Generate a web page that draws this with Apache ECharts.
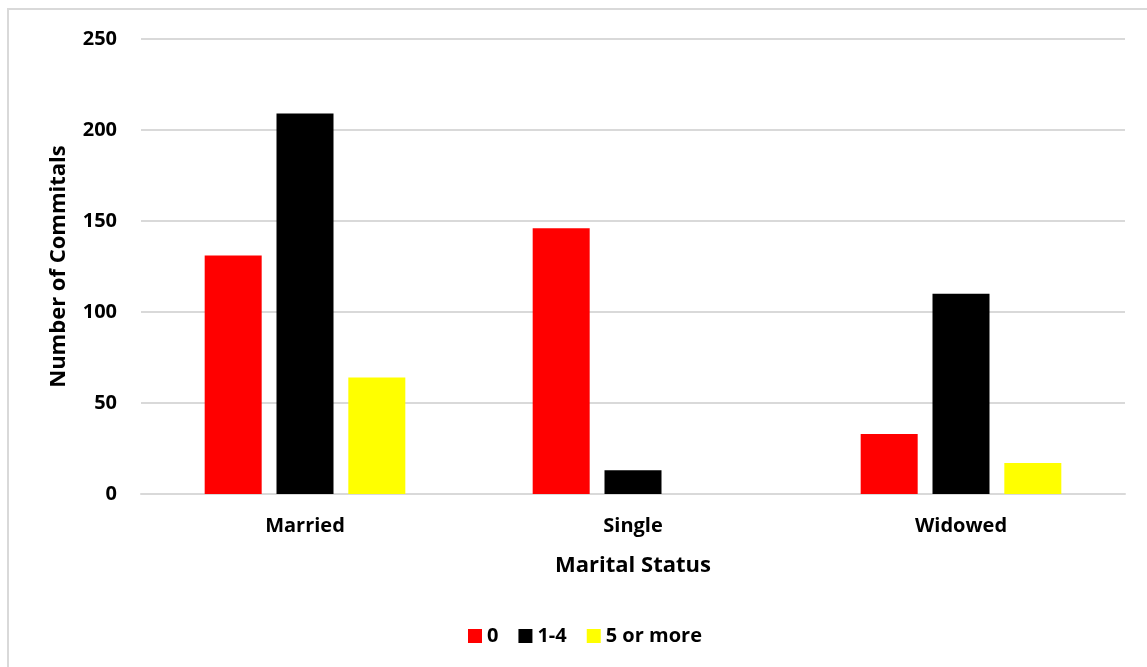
<!DOCTYPE html>
<html>
<head>
<meta charset="utf-8">
<script src="https://cdn.jsdelivr.net/npm/echarts@6/dist/echarts.min.js"></script>
<style>
  html, body { margin: 0; padding: 0; background: #fff; }
  #chart { width: 1147px; height: 667px; }
</style>
</head>
<body>
<div id="chart"></div>
<script>
// Commitals by marital status, split by number of children
const categories = ['Married', 'Single', 'Widowed'];
const seriesNames = ['0', '1-4', '5 or more'];
const valuesZero = [131, 146, 33];
const valuesOneToFour = [209, 13, 110];
const valuesFiveOrMore = [64, 0, 17];
const yTicks = [0, 50, 100, 150, 200, 250];

const colors = ['#ff0000', '#000000', '#ffff00'];
const font = '"Open Sans", "Liberation Sans", sans-serif';

const chart = echarts.init(document.getElementById('chart'), null, { renderer: 'canvas' });

const seriesData = [valuesZero, valuesOneToFour, valuesFiveOrMore];

chart.setOption({
  animation: false,
  backgroundColor: '#ffffff',
  graphic: [{
    type: 'rect',
    shape: { x: 8, y: 9, width: 1200, height: 700 },
    style: { fill: 'none', stroke: '#d9d9d9', lineWidth: 2 },
    silent: true,
    z: -1
  }],
  grid: { left: 141, right: 22, top: 39, bottom: 173, containLabel: false },
  legend: {
    left: 463,
    top: 621,
    itemWidth: 14,
    itemHeight: 14,
    itemGap: 20,
    icon: 'rect',
    data: seriesNames,
    textStyle: { fontFamily: font, fontWeight: 'bold', fontSize: 20, color: '#000' }
  },
  xAxis: {
    type: 'category',
    data: categories,
    name: 'Marital Status',
    nameLocation: 'middle',
    nameGap: 61,
    nameTextStyle: { fontFamily: font, fontWeight: 'bold', fontSize: 22, color: '#000' },
    axisLine: { show: true, lineStyle: { color: '#d9d9d9', width: 2 } },
    axisTick: { show: false },
    axisLabel: { margin: 22, fontFamily: font, fontWeight: 'bold', fontSize: 20, color: '#000' }
  },
  yAxis: {
    type: 'value',
    min: yTicks[0],
    max: yTicks[yTicks.length - 1],
    interval: 50,
    name: 'Number of Commitals',
    nameLocation: 'middle',
    nameGap: 71,
    nameTextStyle: { fontFamily: font, fontWeight: 'bold', fontSize: 22, color: '#000' },
    axisLine: { show: false },
    axisTick: { show: false },
    axisLabel: { margin: 24, fontFamily: font, fontWeight: 'bold', fontSize: 20, color: '#000' },
    splitLine: { lineStyle: { color: '#d9d9d9', width: 2 } }
  },
  series: seriesNames.map((name, i) => ({
    name: name,
    type: 'bar',
    data: seriesData[i],
    barWidth: 57,
    barGap: '26%',
    itemStyle: { color: colors[i] }
  }))
});
</script>
</body>
</html>
